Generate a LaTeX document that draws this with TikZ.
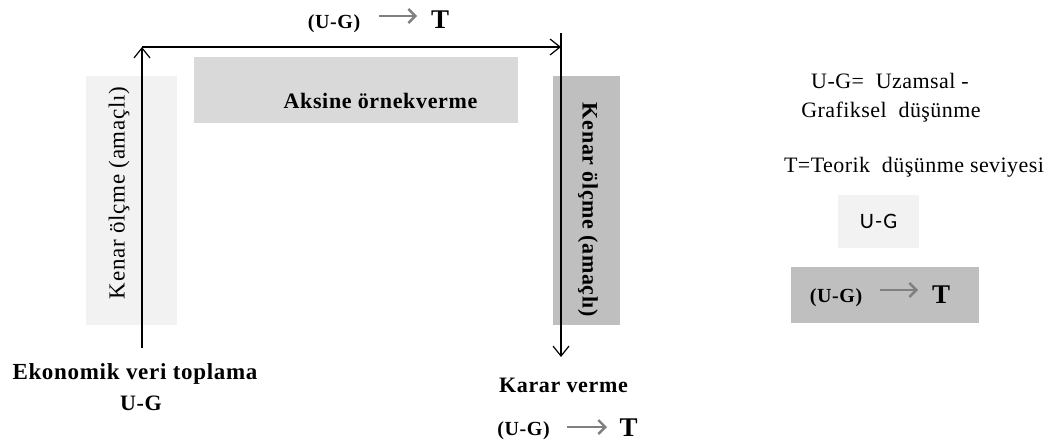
\documentclass[tikz,border=0pt]{standalone}
\usepackage{fontspec}
\setmainfont{Liberation Serif}
\newfontfamily\spacedserif[LetterSpace=3]{Liberation Serif}
\newfontfamily\legserif[LetterSpace=2]{Liberation Serif}
\newfontfamily\calibfont[LetterSpace=6]{Carlito}
\usetikzlibrary{arrows.meta}
\definecolor{boxlight}{HTML}{F2F2F2}
\definecolor{boxmid}{HTML}{D9D9D9}
\definecolor{boxdark}{HTML}{BFBFBF}
\definecolor{arrowgray}{HTML}{808080}
\begin{document}
\begin{tikzpicture}[x=1pt,y=-1pt,
  panel/.style={inner sep=0pt, outer sep=0pt, draw=none},
  txt/.style={inner sep=0pt, font=\spacedserif\fontsize{23}{27}\selectfont},
  btxt/.style={inner sep=0pt, font=\spacedserif\bfseries\fontsize{22}{26}\selectfont},
  ugtxt/.style={inner sep=0pt, font=\spacedserif\bfseries\fontsize{20}{24}\selectfont},
  ttxt/.style={inner sep=0pt, font=\bfseries\fontsize{27}{30}\selectfont},
  legtxt/.style={inner sep=0pt, font=\legserif\fontsize{22}{26}\selectfont},
  flow/.style={line width=1.2pt, -{Straight Barb[length=10pt,width=16pt,line width=1.2pt]}},
  implies/.style={draw=arrowgray, line width=2.4pt, -{Straight Barb[length=7pt,width=14pt,line width=2.4pt]}}
]
\fill[white] (0,0) rectangle (1059,445);
\useasboundingbox (0,0) rectangle (1059,445);

% panels
\node[panel, fill=boxlight, minimum width=91pt, minimum height=249pt] (lbox) at (131.5,200.5) {};
\node[panel, fill=boxmid, minimum width=324pt, minimum height=66pt] (mbox) at (356,90) {};
\node[panel, fill=boxdark, minimum width=67pt, minimum height=249pt] (rbox) at (586.5,200.5) {};

% panel texts
\node[txt, rotate=90] (ltext) at (119,193) {Kenar ölçme (amaçlı)};
\node[btxt, anchor=base] (mtext) at (380.5,108) {Aksine örnekverme};
\node[btxt, rotate=-90] (rtext) at (588,210) {Kenar ölçme (amaçlı)};

% flow coordinates
\coordinate (p1) at (142,348);
\coordinate (p2) at (142,47);
\coordinate (p3) at (561,47);
\coordinate (p4) at (561,33);
\coordinate (p5) at (561,357);
\draw[flow] (p1) -- (p2);
\draw[flow] (p2) -- (p3);
\draw[flow] (p4) -- (p5);

% top label
\node[ugtxt, anchor=base] (ugtop) at (334,28) {(U-G)};
\node[ttxt, anchor=base] (ttop) at (440,28) {T};
\coordinate (a1s) at (379,16);
\coordinate (a1e) at (417,16);
\draw[implies] (a1s) -- (a1e);

% bottom left
\node[btxt, anchor=base, font=\spacedserif\bfseries\fontsize{23}{27}\selectfont] (eko) at (135,379) {Ekonomik veri toplama};
\node[btxt, anchor=base] (ugleft) at (141,410) {U-G};

% bottom right
\node[btxt, anchor=base] (karar) at (563.5,392) {Karar verme};
\node[ugtxt, anchor=base] (ugbot) at (523.5,435) {(U-G)};
\node[ttxt, anchor=base] (tbot) at (628.5,436) {T};
\coordinate (a2s) at (567,427);
\coordinate (a2e) at (607,427);
\draw[implies] (a2s) -- (a2e);

% legend
\node[legtxt, anchor=base] (leg1) at (890,88) {U-G= \ Uzamsal -};
\node[legtxt, anchor=base] (leg2) at (891,117) {Grafiksel \ düşünme};
\node[legtxt, anchor=base] (leg3) at (914,172) {T=Teorik \ düşünme seviyesi};
\node[panel, fill=boxlight, minimum width=81pt, minimum height=53pt, font=\calibfont\fontsize{22}{26}\selectfont] (legbox1) at (878.5,221.5) {U-G};
\node[panel, fill=boxdark, minimum width=188pt, minimum height=56pt] (legbox2) at (885,295) {};
\node[ugtxt, anchor=base] (ugleg) at (836,302) {(U-G)};
\node[ttxt, anchor=base] (tleg) at (941,303) {T};
\coordinate (a3s) at (880,290);
\coordinate (a3e) at (918,290);
\draw[implies] (a3s) -- (a3e);
\end{tikzpicture}
\end{document}
